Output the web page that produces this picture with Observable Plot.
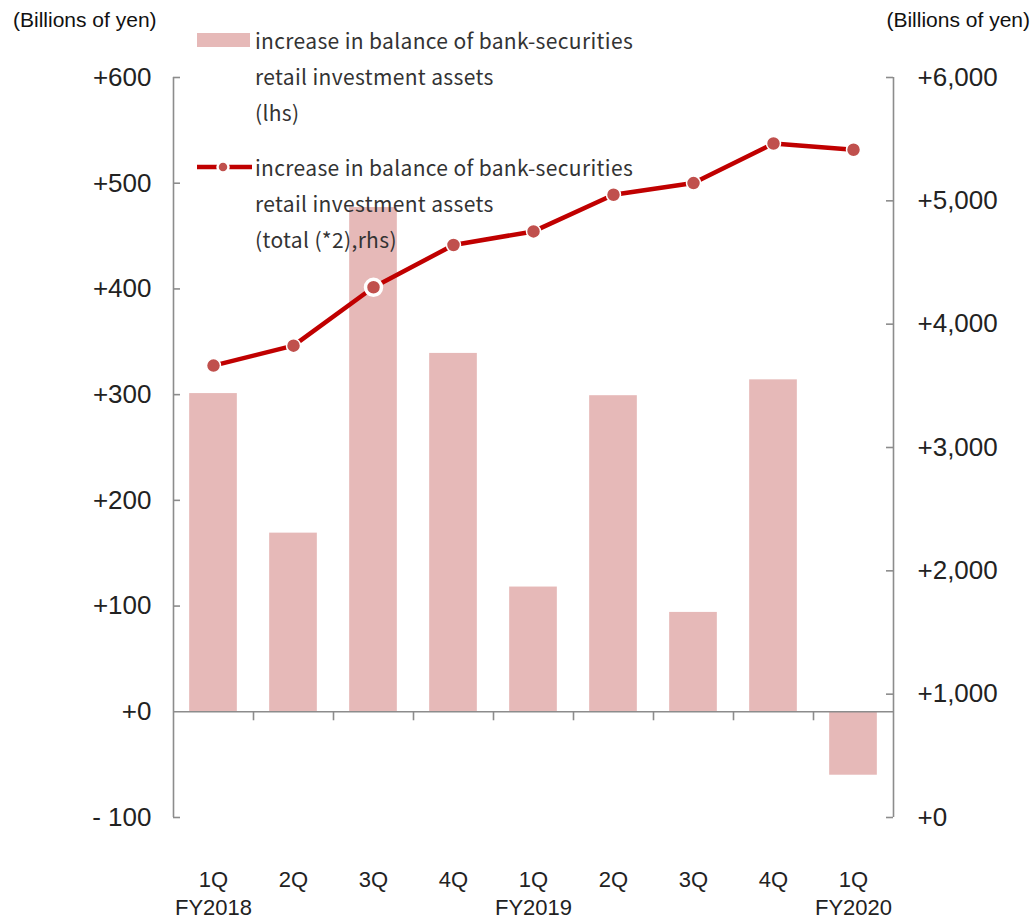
<!DOCTYPE html>
<html>
<head>
<meta charset="utf-8">
<script src="https://cdn.jsdelivr.net/npm/d3@7"></script>
<script src="https://cdn.jsdelivr.net/npm/@observablehq/plot@0.6"></script>
<style>
  html, body { margin: 0; padding: 0; background: #fff; }
  #wrap { position: relative; width: 1033px; height: 920px; overflow: hidden; }
  .title { position: absolute; top: 8px; font: 21px "Liberation Sans", Arial, sans-serif; color: #111; white-space: nowrap; }
  .leg { position: absolute; font: 21px "Noto Sans CJK JP", "Noto Sans", sans-serif; letter-spacing: 0.35px; color: #333; white-space: nowrap; line-height: 36px; }
  .sw { position: absolute; }
</style>
</head>
<body>
<div id="wrap"></div>
<script>
// ---- data ----
const quarters = ["1Q", "2Q", "3Q", "4Q", "1Q", "2Q", "3Q", "4Q", "1Q"];
const fiscalYears = ["FY2018", "", "", "", "FY2019", "", "", "", "FY2020"];
const barValues = [301, 169, 477, 339, 118, 299, 94, 314, -60];      // lhs, billions of yen
const lineValues = [3664, 3826, 4299, 4642, 4752, 5049, 5144, 5465, 5414]; // rhs, billions of yen
const highlighted = [2];  // index of the point with the white ring
const leftTicks = [-100, 0, 100, 200, 300, 400, 500, 600];
const rightTicks = [0, 1000, 2000, 3000, 4000, 5000, 6000];
const leftDomain = [-100, 600];
const rightDomain = [0, 6000];
const axisTitle = "(Billions of yen)";
const legendBar = ["increase in balance of bank-securities", "retail investment assets", "(lhs)"];
const legendLine = ["increase in balance of bank-securities", "retail investment assets", "(total (*2),rhs)"];

// ---- colours ----
const barColor = "#E6B9B8";
const lineColor = "#C00000";
const dotColor = "#C0504D";
const axisColor = "#8c8c8c";
const textColor = "#222";

// map right-axis values onto the left scale
const toLeft = v => leftDomain[0] + (v - rightDomain[0]) * (leftDomain[1] - leftDomain[0]) / (rightDomain[1] - rightDomain[0]);
const fromLeft = y => rightDomain[0] + (y - leftDomain[0]) * (rightDomain[1] - rightDomain[0]) / (leftDomain[1] - leftDomain[0]);

const data = quarters.map((q, i) => ({i, q, fy: fiscalYears[i], bar: barValues[i], line: lineValues[i], yl: toLeft(lineValues[i])}));
const n = data.length;
const half = 0.298;
const boundaries = d3.range(1, n).map(k => k - 0.5);
const xMin = -0.5, xMax = n - 0.5;

const fmtLeft = d => d > 0 ? "+" + d : d === 0 ? "+0" : "- " + Math.abs(d);
const fmtRight = d => { const v = Math.round(fromLeft(d)); return "+" + d3.format(",")(v); };

const chart = Plot.plot({
  width: 1033,
  height: 920,
  marginLeft: 173,
  marginRight: 140,
  marginTop: 77,
  marginBottom: 103,
  style: {fontFamily: "'Liberation Sans', Arial, sans-serif", color: textColor, background: "transparent"},
  x: {type: "linear", domain: [xMin, xMax]},
  y: {domain: leftDomain},
  marks: [
    Plot.rectY(data, {x1: d => d.i - half, x2: d => d.i + half, y1: 0, y2: "bar", fill: barColor}),
    // frame axes lines
    Plot.ruleX([xMin, xMax], {stroke: axisColor, strokeWidth: 1.6}),
    Plot.ruleY([0], {stroke: axisColor, strokeWidth: 1.6}),
    // inward ticks
    Plot.ruleY(leftTicks.filter(t => t !== 0), {y: d => d, x1: xMin, x2: xMin, insetRight: -7, stroke: axisColor, strokeWidth: 1.6}),
    Plot.ruleY(rightTicks, {y: d => toLeft(d), x1: xMax, x2: xMax, insetLeft: -7, stroke: axisColor, strokeWidth: 1.6}),
    // category boundary ticks below zero line
    Plot.ruleX(boundaries, {x: d => d, y1: 0, y2: 0, insetBottom: -9, stroke: axisColor, strokeWidth: 1.6}),
    // axes labels
    Plot.axisY({anchor: "left", ticks: leftTicks, tickFormat: fmtLeft, tickSize: 0, tickPadding: 22, fontSize: 26, label: null}),
    Plot.axisY({anchor: "right", ticks: rightTicks.map(toLeft), tickFormat: fmtRight, tickSize: 0, tickPadding: 24, fontSize: 26, label: null}),
    Plot.axisX({anchor: "bottom", ticks: data.map(d => d.i), tickFormat: i => data[i].fy ? data[i].q + "\n" + data[i].fy : data[i].q,
      tickSize: 0, tickPadding: 50, fontSize: 22, lineHeight: 1.25, label: null}),
    // line series
    Plot.line(data, {x: "i", y: "yl", stroke: lineColor, strokeWidth: 4.5}),
    Plot.dot(data, {x: "i", y: "yl", r: 7, fill: dotColor, stroke: "#fff", strokeWidth: 1.5}),
    Plot.dot(data.filter(d => highlighted.includes(d.i)), {x: "i", y: "yl", r: 8, fill: dotColor, stroke: "#fff", strokeWidth: 3.5})
  ]
});

const wrap = document.getElementById("wrap");
wrap.appendChild(chart);

function addDiv(cls, text, style) {
  const el = document.createElement("div");
  el.className = cls;
  if (text != null) el.textContent = text;
  Object.assign(el.style, style);
  wrap.appendChild(el);
  return el;
}
addDiv("title", axisTitle, {left: "13px"});
addDiv("title", axisTitle, {right: "3px"});

// legend: bar swatch
addDiv("sw", null, {left: "197px", top: "33px", width: "53px", height: "14px", background: barColor});
const l1 = addDiv("leg", null, {left: "255px", top: "22px"});
l1.innerHTML = legendBar.map(s => `<div>${s}</div>`).join("");
// legend: line swatch
const sw2 = addDiv("sw", null, {left: "195px", top: "158px", width: "60px", height: "18px"});
sw2.innerHTML = `<svg width="60" height="18"><line x1="2" x2="57" y1="9" y2="9" stroke="${lineColor}" stroke-width="4.5"/><circle cx="28" cy="9" r="5.5" fill="${dotColor}" stroke="#fff" stroke-width="2.5"/></svg>`;
const l2 = addDiv("leg", null, {left: "255px", top: "149px"});
l2.innerHTML = legendLine.map(s => `<div>${s}</div>`).join("");
</script>
</body>
</html>
